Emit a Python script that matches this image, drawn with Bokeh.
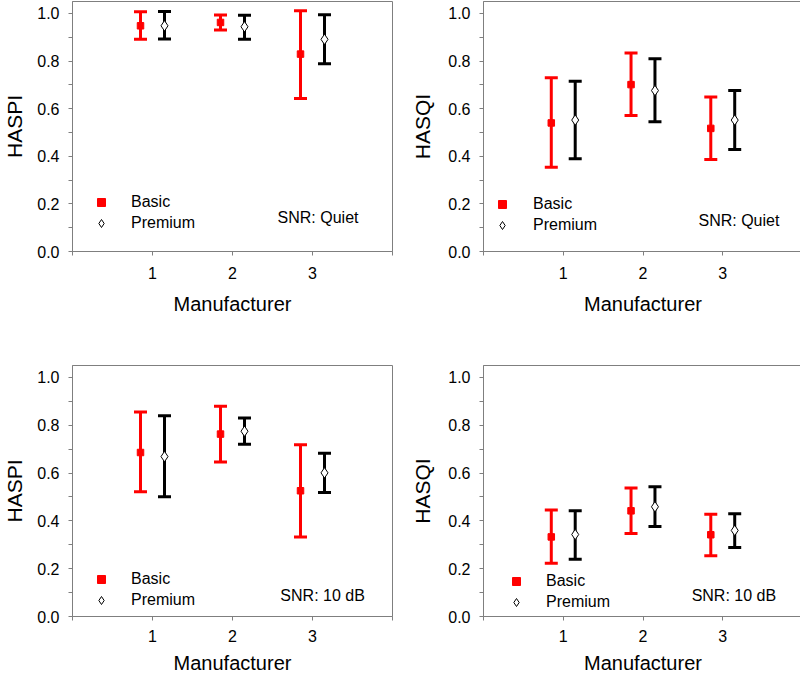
import numpy as np
from bokeh.plotting import figure
from bokeh.layouts import column, row
from bokeh.models import (ColumnDataSource, Whisker, TeeHead, FixedTicker, PrintfTickFormatter,
                          Legend, LegendItem, Label, Range1d)
from bokeh.embed import file_html
from bokeh.resources import INLINE

# ---------------- data ----------------
manufacturers = [1, 2, 3]
y_ticks = [0.0, 0.2, 0.4, 0.6, 0.8, 1.0]
y_minor = [0.1, 0.3, 0.5, 0.7, 0.9]
x_ticks = [0, 1, 2, 3, 4]

# HASPI, quiet
haspi_q_basic_mean = [0.948, 0.962, 0.829]
haspi_q_basic_lo = [0.891, 0.930, 0.643]
haspi_q_basic_hi = [1.007, 0.993, 1.011]
haspi_q_prem_mean = [0.948, 0.944, 0.891]
haspi_q_prem_lo = [0.892, 0.891, 0.789]
haspi_q_prem_hi = [1.008, 0.992, 0.994]

# HASQI, quiet
hasqi_q_basic_mean = [0.540, 0.701, 0.517]
hasqi_q_basic_lo = [0.354, 0.571, 0.386]
hasqi_q_basic_hi = [0.730, 0.834, 0.649]
hasqi_q_prem_mean = [0.552, 0.676, 0.552]
hasqi_q_prem_lo = [0.390, 0.545, 0.428]
hasqi_q_prem_hi = [0.715, 0.810, 0.676]

# HASPI, 10 dB
haspi_10_basic_mean = [0.686, 0.763, 0.526]
haspi_10_basic_lo = [0.522, 0.646, 0.333]
haspi_10_basic_hi = [0.855, 0.880, 0.718]
haspi_10_prem_mean = [0.669, 0.775, 0.601]
haspi_10_prem_lo = [0.501, 0.721, 0.519]
haspi_10_prem_hi = [0.840, 0.830, 0.683]

# HASQI, 10 dB
hasqi_10_basic_mean = [0.333, 0.442, 0.342]
hasqi_10_basic_lo = [0.223, 0.347, 0.254]
hasqi_10_basic_hi = [0.445, 0.538, 0.428]
hasqi_10_prem_mean = [0.343, 0.459, 0.360]
hasqi_10_prem_lo = [0.240, 0.377, 0.289]
hasqi_10_prem_hi = [0.442, 0.543, 0.430]

FONT = "Liberation Sans"
GRAY = "#7f7f7f"
RED = "#ff0000"
Y_END = 1.05


def make_panel(ylabel, snr_text, basic, prem, cfg):
    fw, fh = cfg["fw"], cfg["fh"]
    px_per_y = fh / Y_END
    p = figure(frame_width=fw, frame_height=fh,
               min_border_left=cfg["bl"], min_border_right=cfg["br"],
               min_border_top=cfg["bt"], min_border_bottom=cfg["bb"],
               x_range=Range1d(0, 4), y_range=Range1d(0, Y_END),
               output_backend="svg", toolbar_location=None)
    p.grid.visible = False
    p.outline_line_color = GRAY
    p.outline_line_width = 1
    p.background_fill_color = "white"
    p.border_fill_color = "white"

    xa = p.xaxis[0]
    xa.ticker = FixedTicker(ticks=x_ticks, minor_ticks=[])
    xa.major_label_overrides = {0: "", 4: ""}
    xa.axis_label = "Manufacturer"
    ya = p.yaxis[0]
    ya.ticker = FixedTicker(ticks=y_ticks, minor_ticks=y_minor)
    ya.formatter = PrintfTickFormatter(format="%.1f")
    ya.axis_label = ylabel
    for ax in (xa, ya):
        ax.axis_line_color = GRAY
        ax.major_tick_line_color = GRAY
        ax.minor_tick_line_color = GRAY
        ax.major_tick_in = 0
        ax.major_tick_out = 4
        ax.minor_tick_in = 0
        ax.minor_tick_out = 4
        ax.major_label_text_font = FONT
        ax.major_label_text_font_size = "16px"
        ax.major_label_text_color = "black"
        ax.axis_label_text_font = FONT
        ax.axis_label_text_font_style = "normal"
        ax.axis_label_text_color = "black"
    xa.axis_label_text_font_size = "20px"
    ya.axis_label_text_font_size = "21px"
    xa.major_label_standoff = cfg["xls"]
    xa.axis_label_standoff = cfg["xas"]
    ya.major_label_standoff = 9
    ya.axis_label_standoff = cfg["yas"]

    xs = np.array(manufacturers, dtype=float)
    bx = xs - 0.15
    px = xs + 0.15
    b_mean, b_lo, b_hi = basic
    p_mean, p_lo, p_hi = prem

    for xpos, lo, hi, col in ((bx, b_lo, b_hi, RED), (px, p_lo, p_hi, "black")):
        src = ColumnDataSource(dict(x=xpos, lower=lo, upper=hi))
        w = Whisker(source=src, base="x", lower="lower", upper="upper",
                    line_color=col, line_width=3,
                    upper_head=TeeHead(size=13, line_color=col, line_width=3),
                    lower_head=TeeHead(size=13, line_color=col, line_width=3),
                    level="underlay")
        p.add_layout(w)

    rb = p.scatter(bx, b_mean, marker="square", size=6.5, fill_color=RED, line_color=RED)
    rp = p.scatter(px, p_mean, marker="diamond", size=10.5,
                   fill_color="white", line_color="black", line_width=1)

    legend = Legend(items=[LegendItem(label="Basic", renderers=[rb]),
                           LegendItem(label="Premium", renderers=[rp])],
                    location=(cfg["lx"], cfg["prem_y"] * px_per_y - 10),
                    background_fill_alpha=0, border_line_alpha=0,
                    padding=0, margin=0, spacing=1,
                    glyph_width=20, glyph_height=20, label_height=20,
                    label_standoff=cfg["lst"],
                    label_text_font=FONT, label_text_font_size="16px",
                    label_text_color="black")
    p.add_layout(legend)

    lab = Label(x=cfg["snr_x"], y=cfg["snr_y"], text=snr_text, text_align="right",
                text_baseline="middle", text_font=FONT, text_font_size="16px",
                text_color="black")
    p.add_layout(lab)
    return p


cfg_tl = dict(fw=320, fh=250, bl=69, br=11, bt=1, bb=89, xls=11, xas=11, yas=8,
              lx=19, prem_y=0.119, lst=20, snr_x=3.575, snr_y=0.143)
cfg_tr = dict(fw=319, fh=250, bl=80, br=1, bt=1, bb=89, xls=11, xas=11, yas=11,
              lx=9, prem_y=0.108, lst=21, snr_x=3.71, snr_y=0.13)
cfg_bl = dict(fw=320, fh=251, bl=69, br=11, bt=25, bb=62, xls=9, xas=7, yas=8,
              lx=19, prem_y=0.069, lst=20, snr_x=3.71, snr_y=0.087)
cfg_br = dict(fw=319, fh=251, bl=80, br=1, bt=25, bb=62, xls=9, xas=7, yas=11,
              lx=23, prem_y=0.059, lst=20, snr_x=3.725, snr_y=0.087)

p1 = make_panel("HASPI", "SNR: Quiet",
                (haspi_q_basic_mean, haspi_q_basic_lo, haspi_q_basic_hi),
                (haspi_q_prem_mean, haspi_q_prem_lo, haspi_q_prem_hi), cfg_tl)
p2 = make_panel("HASQI", "SNR: Quiet",
                (hasqi_q_basic_mean, hasqi_q_basic_lo, hasqi_q_basic_hi),
                (hasqi_q_prem_mean, hasqi_q_prem_lo, hasqi_q_prem_hi), cfg_tr)
p3 = make_panel("HASPI", "SNR:  10 dB",
                (haspi_10_basic_mean, haspi_10_basic_lo, haspi_10_basic_hi),
                (haspi_10_prem_mean, haspi_10_prem_lo, haspi_10_prem_hi), cfg_bl)
p4 = make_panel("HASQI", "SNR:  10 dB",
                (hasqi_10_basic_mean, hasqi_10_basic_lo, hasqi_10_basic_hi),
                (hasqi_10_prem_mean, hasqi_10_prem_lo, hasqi_10_prem_hi), cfg_br)

layout = column(row(p1, p2, spacing=0), row(p3, p4, spacing=0), spacing=0)
open("out.html", "w").write(file_html(layout, INLINE))
